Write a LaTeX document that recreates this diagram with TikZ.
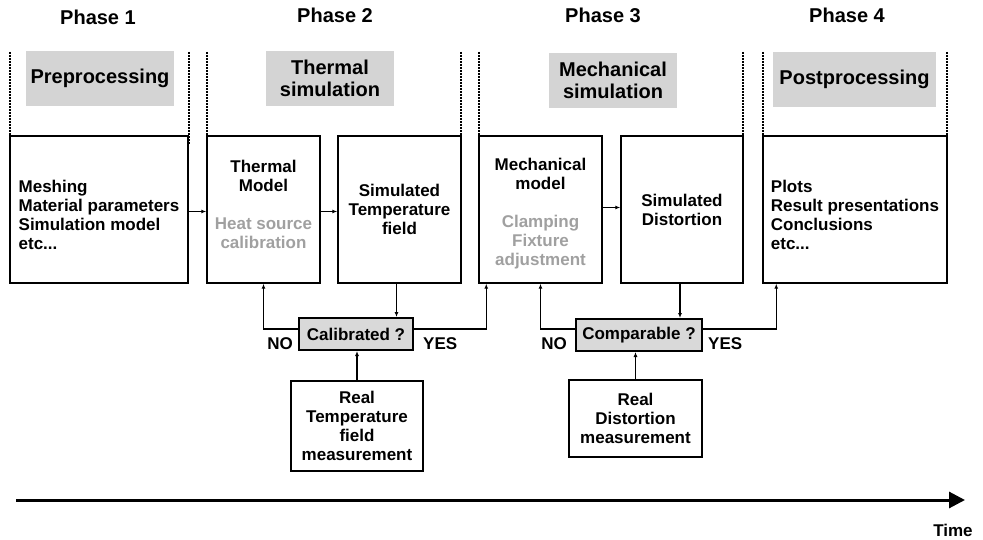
\documentclass[tikz,border=0pt]{standalone}
\usepackage{fontspec}
\setmainfont{Liberation Sans}
\usetikzlibrary{arrows.meta,positioning}

\definecolor{hdrgray}{RGB}{212,212,212}
\definecolor{qgray}{RGB}{217,217,217}
\definecolor{notegray}{RGB}{160,160,160}
\newcommand{\bodyfont}{\bfseries\fontsize{17}{19}\selectfont}
\newcommand{\headfont}{\bfseries\fontsize{20}{22.5}\selectfont}

\begin{document}
\begin{tikzpicture}[x=1pt, y=-1pt,
    phase/.style={font=\headfont, inner sep=1pt},
    hdr/.style={fill=hdrgray, minimum height=55pt, align=center, font=\headfont},
    stage/.style={draw, line width=1.5pt, minimum height=147pt},
    txt/.style={align=center, font=\bodyfont, inner sep=1pt},
    query/.style={draw, line width=2pt, fill=qgray, minimum height=32pt,
                  font=\bodyfont, inner sep=2pt},
    meas/.style={draw, line width=1.5pt, align=center, font=\bodyfont},
    lbl/.style={font=\bodyfont, inner sep=1pt},
    flow/.style={line width=1.5pt, -{Latex[length=5pt,width=4pt]}},
    sep/.style={line width=1.8pt, dash pattern=on 2pt off 1pt},
  ]
  \useasboundingbox (0,0) rectangle (983,540);

  % phase titles and headers
  \node[phase] (ph1) at (98,17) {Phase 1};
  \node[phase] (ph2) at (335,15) {Phase 2};
  \node[phase] (ph3) at (603,15) {Phase 3};
  \node[phase] (ph4) at (847,15) {Phase 4};

  \node[hdr, minimum width=148pt] (pre)  at (100,78.5) {Preprocessing};
  \node[hdr, minimum width=128pt] (therm) at (330,78.5) {Thermal\\simulation};
  \node[hdr, minimum width=128pt] (mech) at (613,80.5) {Mechanical\\simulation};
  \node[hdr, minimum width=163pt] (post) at (854.5,79.5) {Postprocessing};

  \foreach \x in {10,189,207,461,479,743,763,947}
    \draw[sep] (\x,52) -- (\x,144);

  % main stages
  \node[stage, minimum width=178pt] (mesh) at (99,209.5) {};
  \node[stage, minimum width=113pt] (tmod) at (263.5,209.5) {};
  \node[stage, minimum width=123pt] (tsim) at (399.5,209.5) {};
  \node[stage, minimum width=123pt] (mmod) at (540.5,209.5) {};
  \node[stage, minimum width=122pt] (dsim) at (682,209.5) {};
  \node[stage, minimum width=184pt] (res) at (855,209.5) {};

  \node[txt, align=left] (meshtxt) at ([yshift=-5pt]mesh.center)
    {Meshing\\Material parameters\\Simulation model\\etc...};
  \node[txt] (tmodtxt) at ([yshift=5pt]tmod.center)
    {Thermal\\Model\\[19pt]\color{notegray}Heat source\\\color{notegray}calibration};
  \node[txt] (tsimtxt) at (tsim.center) {Simulated\\Temperature\\field};
  \node[txt] (mmodtxt) at ([yshift=-4pt]mmod.center)
    {Mechanical\\model\\[19pt]\color{notegray}Clamping\\\color{notegray}Fixture\\\color{notegray}adjustment};
  \node[txt] (dsimtxt) at (dsim.center) {Simulated\\Distortion};
  \node[txt, align=left] (restxt) at ([yshift=-5pt]res.center)
    {Plots\\Result presentations\\Conclusions\\etc...};

  \draw[flow] ([yshift=-2pt]mesh.east) -- ([yshift=-2pt]tmod.west);
  \draw[flow] ([yshift=-2pt]tmod.east) -- ([yshift=-2pt]tsim.west);
  \draw[flow] ([yshift=2pt]mmod.east) -- ([yshift=2pt]dsim.west);

  % checks
  \node[query, minimum width=114pt] (cal) at (356,334) {Calibrated ?};
  \node[query, minimum width=126pt] (cmp) at (639,335) {Comparable ?};
  \node[meas, minimum width=132pt, minimum height=90pt] (rtemp) at (357,426)
    {Real\\Temperature\\field\\measurement};
  \node[meas, minimum width=133pt, minimum height=77pt] (rdist) at (635.5,418.5)
    {Real\\Distortion\\measurement};

  \node[lbl, anchor=east] (no1) at ([xshift=-4pt,yshift=-10pt]cal.west) {NO};
  \node[lbl, anchor=west] (yes1) at ([xshift=8pt,yshift=-10pt]cal.east) {YES};
  \node[lbl, anchor=east] (no2) at ([xshift=-7pt,yshift=-9pt]cmp.west) {NO};
  \node[lbl, anchor=west] (yes2) at ([xshift=4pt,yshift=-9pt]cmp.east) {YES};

  \draw[flow] ([xshift=-3pt]tsim.south) -- ([xshift=-3pt]tsim.south |- cal.north);
  \draw[flow] ([yshift=5pt]cal.west) -| (tmod.south);
  \draw[flow] ([yshift=5pt]cal.east) -| ([xshift=8pt]mmod.south west);
  \draw[flow] (rtemp.north) -- (rtemp.north |- cal.south);

  \draw[flow] ([xshift=-2pt]dsim.south) -- ([xshift=-2pt]dsim.south |- cmp.north);
  \draw[flow] ([yshift=6pt]cmp.west) -| (mmod.south);
  \draw[flow] ([yshift=6pt]cmp.east) -| ([xshift=14pt]res.south west);
  \draw[flow] (rdist.north) -- (rdist.north |- cmp.south);

  % time axis
  \coordinate (t0) at (16,500);
  \coordinate (t1) at (965,500);
  \draw[line width=3pt, -{Triangle[length=16pt,width=16pt]}] (t0) -- (t1);
  \node[lbl] (time) at (953,530) {Time};
\end{tikzpicture}
\end{document}
